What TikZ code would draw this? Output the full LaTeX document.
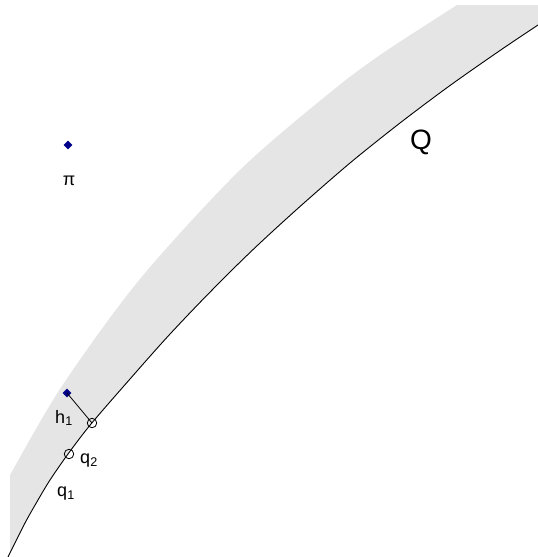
\documentclass[tikz,border=0pt]{standalone}
\usepackage{fontspec}
\setmainfont{Liberation Sans}
\usepackage{tikz}
\usetikzlibrary{shapes.geometric}
\definecolor{marino}{RGB}{0,0,139}
\definecolor{banda}{RGB}{229,229,229}

\tikzset{
  punto/.style={diamond,fill=marino,inner sep=0pt,minimum size=9pt},
  corte/.style={circle,draw=black,line width=0.8pt,inner sep=0pt,minimum size=9.5pt},
  etiqueta/.style={inner sep=0pt,font=\fontsize{18}{20}\selectfont},
  curva/.style={line width=0.9pt,black}
}

\begin{document}
\begin{tikzpicture}[x=1pt,y=-1pt]
\useasboundingbox (0,0) rectangle (538,557);
% banda gris entre las dos curvas
\begin{scope}
\clip (10,5) rectangle (538,557);
\fill[banda] plot[smooth] coordinates {(0,494) (10,475) (62,386) (140,279) (240,170) (332,91) (383,53) (457,5) (470,-4)}
  -- (545,-4) -- (545,20)
  -- plot[smooth] coordinates {(538,25) (500,50.5) (450,85.5) (400,123) (350,163) (300,206.5) (260,243) (230,272) (197,305.5) (165,339.5) (130,379) (91,424) (68,454) (50,480) (38,500) (25,523) (8,557) (5,563)}
  -- (0,563) -- cycle;
\end{scope}
% curva Q
\draw[curva] plot[smooth] coordinates {(8,557) (25,523) (38,500) (50,480) (68,454) (91,424) (130,379) (165,339.5) (197,305.5) (230,272) (260,243) (300,206.5) (350,163) (400,123) (450,85.5) (500,50.5) (538,25)};
\node[etiqueta,font=\fontsize{28}{30}\selectfont] (lQ) at (421,142) {Q};

\node[punto] (ppi) at (68,145) {};
\node[etiqueta] (lpi) at (69,181) {π};

\node[punto] (ph) at (67,393) {};
\node[corte] (cq2) at (92,423) {};
\node[corte] (cq1) at (69,454) {};
\draw[line width=0.8pt] (ph.center) -- (cq2.center);

\node[etiqueta] (lh) at (64,418) {h\textsubscript{1}};
\node[etiqueta] (lq2) at (89,461) {q\textsubscript{2}};
\node[etiqueta] (lq1) at (66,494) {q\textsubscript{1}};
\end{tikzpicture}
\end{document}
